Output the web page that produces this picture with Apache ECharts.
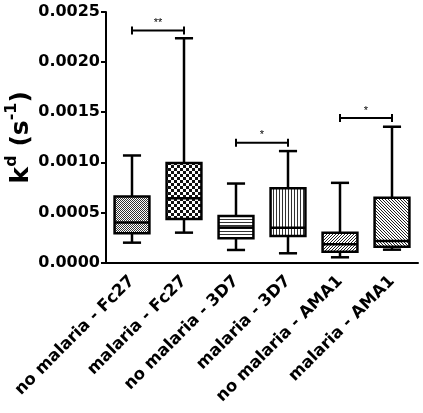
<!DOCTYPE html>
<html><head><meta charset="utf-8">
<script src="https://cdn.jsdelivr.net/npm/echarts@6/dist/echarts.min.js"></script>
<style>html,body{margin:0;padding:0;background:#fff}#c{width:423px;height:413px}</style>
</head><body><div id="c"></div>
<script>
const categories = ['no malaria - Fc27','malaria - Fc27','no malaria - 3D7','malaria - 3D7','no malaria - AMA1','malaria - AMA1'];
const whiskerLow  = [0.000198, 0.000298, 0.000125, 0.000092, 0.000052, 0.000128];
const quartile1   = [0.000292, 0.000435, 0.000242, 0.000265, 0.000108, 0.000158];
const medians     = [0.000398, 0.000642, 0.000350, 0.000348, 0.000182, 0.000215];
const quartile3   = [0.000658, 0.000992, 0.000465, 0.000742, 0.000298, 0.000645];
const whiskerHigh = [0.001068, 0.002238, 0.000788, 0.001112, 0.000795, 0.001355];
const yTicks = [0, 0.0005, 0.0010, 0.0015, 0.0020, 0.0025];
const sigFrom = [0, 2, 4];
const sigTo   = [1, 3, 5];
const sigLevel = [0.002315, 0.001195, 0.001442];
const sigText = ['**', '*', '*'];

const FONT = 'DejaVu Sans';
function makePattern(w, h, draw) {
  const c = document.createElement('canvas');
  c.width = w; c.height = h;
  const ctx = c.getContext('2d');
  ctx.fillStyle = '#fff'; ctx.fillRect(0, 0, w, h);
  ctx.fillStyle = '#111';
  draw(ctx);
  return { image: c, repeat: 'repeat' };
}
const patterns = [
  makePattern(2, 2, ctx => { ctx.fillStyle='#333'; ctx.fillRect(0,0,1,1); ctx.fillRect(1,1,1,1); }),
  makePattern(6, 6, ctx => { ctx.fillRect(0,0,3,3); ctx.fillRect(3,3,3,3); }),
  makePattern(1, 3, ctx => { ctx.fillStyle='#333'; ctx.fillRect(0,0,1,1); }),
  makePattern(3, 1, ctx => { ctx.fillStyle='#333'; ctx.fillRect(0,0,1,1); }),
  makePattern(3, 3, ctx => { ctx.fillStyle='#222'; ctx.fillRect(0,2,1,1); ctx.fillRect(1,1,1,1); ctx.fillRect(2,0,1,1); }),
  makePattern(3, 3, ctx => { ctx.fillStyle='#222'; ctx.fillRect(0,0,1,1); ctx.fillRect(1,1,1,1); ctx.fillRect(2,2,1,1); })
];

const boxData = categories.map((c, i) => [i, whiskerLow[i], quartile1[i], medians[i], quartile3[i], whiskerHigh[i]]);
const sigData = sigFrom.map((a, i) => [a, sigTo[i], sigLevel[i], sigText[i]]);

const chart = echarts.init(document.getElementById('c'), null, { renderer: 'canvas' });
const LW = 2.5;
chart.setOption({
  animation: false,
  grid: { left: 106, right: 5, top: 12, bottom: 150.5, containLabel: false, outerBoundsMode: 'none' },
  xAxis: {
    type: 'category', data: categories,
    axisLine: { lineStyle: { color: '#000', width: 2 } },
    axisTick: { alignWithLabel: true, length: 6, lineStyle: { color: '#000', width: 2 } },
    axisLabel: { interval: 0, rotate: 45, color: '#000', fontWeight: 'bold', fontSize: 16.5, fontFamily: FONT, margin: 16, padding: [8, 0, 0, 0] },
    splitLine: { show: false }
  },
  yAxis: {
    type: 'value', min: 0, max: 0.0025, interval: 0.0005,
    axisLine: { show: true, lineStyle: { color: '#000', width: 2 } },
    axisTick: { show: true, length: 5, lineStyle: { color: '#000', width: 2 } },
    axisLabel: { color: '#000', fontWeight: 'bold', fontSize: 16, fontFamily: FONT, margin: 6,
      formatter: v => v.toFixed(4) },
    splitLine: { show: false },
    name: '{k|k}{s|d}{k| (s}{s|-1}{k|)}',
    nameLocation: 'middle', nameRotate: 90, nameGap: 72, nameMoveOverlap: false,
    nameTextStyle: {
      rich: {
        k: { fontSize: 25, fontWeight: 'bold', color: '#000', fontFamily: FONT, lineHeight: 30, verticalAlign: 'bottom' },
        s: { fontSize: 16, fontWeight: 'bold', color: '#000', fontFamily: FONT, lineHeight: 30, verticalAlign: 'top', padding: [0, 0, 14, 0] }
      }
    }
  },
  series: [
    {
      type: 'custom', data: boxData, clip: false,
      renderItem: function (params, api) {
        const idx = api.value(0);
        const bw = api.size([1, 0])[0] * 0.67;
        const cap = bw * 0.52;
        const pLo = api.coord([idx, api.value(1)]);
        const pQ1 = api.coord([idx, api.value(2)]);
        const pMd = api.coord([idx, api.value(3)]);
        const pQ3 = api.coord([idx, api.value(4)]);
        const pHi = api.coord([idx, api.value(5)]);
        const x = pMd[0];
        const ls = { stroke: '#000', lineWidth: LW };
        return {
          type: 'group',
          children: [
            { type: 'line', shape: { x1: x, y1: pQ3[1], x2: x, y2: pHi[1] }, style: ls },
            { type: 'line', shape: { x1: x, y1: pQ1[1], x2: x, y2: pLo[1] }, style: ls },
            { type: 'line', shape: { x1: x - cap / 2, y1: pHi[1], x2: x + cap / 2, y2: pHi[1] }, style: ls },
            { type: 'line', shape: { x1: x - cap / 2, y1: pLo[1], x2: x + cap / 2, y2: pLo[1] }, style: ls },
            { type: 'rect', shape: { x: x - bw / 2, y: pQ3[1], width: bw, height: pQ1[1] - pQ3[1] },
              style: { fill: patterns[params.dataIndex], stroke: '#000', lineWidth: LW } },
            { type: 'line', shape: { x1: x - bw / 2, y1: pMd[1], x2: x + bw / 2, y2: pMd[1] }, style: ls }
          ]
        };
      }
    },
    {
      type: 'custom', data: sigData, clip: false,
      encode: { x: 0, y: 2 },
      renderItem: function (params, api) {
        const a = api.coord([api.value(0), api.value(2)]);
        const b = api.coord([api.value(1), api.value(2)]);
        const ls = { stroke: '#000', lineWidth: 2 };
        return {
          type: 'group',
          children: [
            { type: 'line', shape: { x1: a[0], y1: a[1], x2: b[0], y2: b[1] }, style: ls },
            { type: 'line', shape: { x1: a[0], y1: a[1] - 4, x2: a[0], y2: a[1] + 4 }, style: ls },
            { type: 'line', shape: { x1: b[0], y1: b[1] - 4, x2: b[0], y2: b[1] + 4 }, style: ls },
            { type: 'text', style: { text: sigData[params.dataIndex][3], x: (a[0] + b[0]) / 2, y: a[1] - 2,
              textAlign: 'center', textVerticalAlign: 'bottom', fill: '#000', fontSize: 11, fontFamily: 'Liberation Sans' } }
          ]
        };
      }
    }
  ]
});
</script></body></html>
